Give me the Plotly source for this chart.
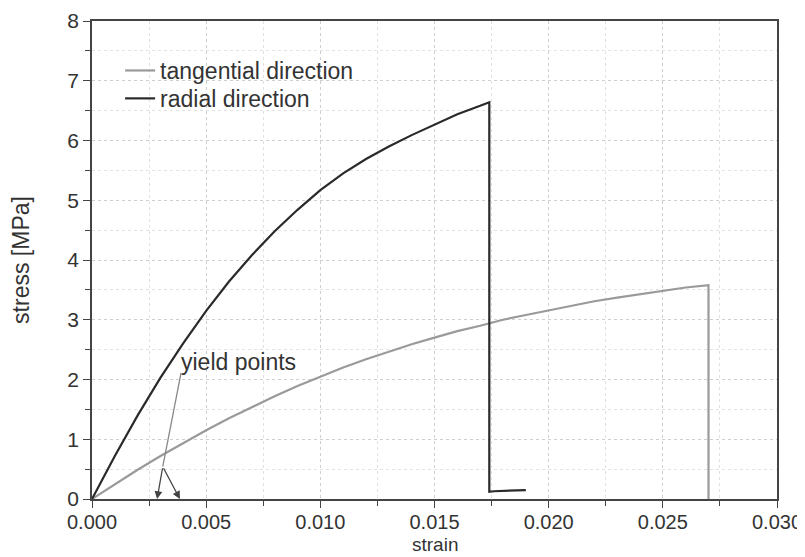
import plotly.graph_objects as go

# Data
tang_strain = [0.0, 0.001, 0.002, 0.003, 0.004, 0.005, 0.006, 0.007, 0.008, 0.009,
               0.010, 0.011, 0.012, 0.013, 0.014, 0.015, 0.016, 0.017, 0.018, 0.019,
               0.020, 0.021, 0.022, 0.023, 0.024, 0.025, 0.026, 0.027, 0.027]
tang_stress = [0.0, 0.25, 0.49, 0.72, 0.94, 1.15, 1.35, 1.54, 1.72, 1.89,
               2.05, 2.20, 2.34, 2.47, 2.59, 2.70, 2.81, 2.90, 3.00, 3.08,
               3.16, 3.24, 3.31, 3.37, 3.43, 3.49, 3.54, 3.58, 0.0]

rad_strain = [0.0, 0.001, 0.002, 0.003, 0.004, 0.005, 0.006, 0.007, 0.008, 0.009,
              0.010, 0.011, 0.012, 0.013, 0.014, 0.015, 0.016, 0.017, 0.0174,
              0.0174, 0.0176, 0.019]
rad_stress = [0.0, 0.72, 1.40, 2.03, 2.61, 3.15, 3.64, 4.08, 4.48, 4.84,
              5.17, 5.45, 5.69, 5.90, 6.09, 6.27, 6.44, 6.58, 6.64,
              0.12, 0.13, 0.15]

x_title = "strain"
y_title = "stress [MPa]"
yield_label = "yield points"
yield_targets = [0.00285, 0.00385]
yield_branch = (0.0031, 0.54)
yield_text_pos = (0.0038, 2.29)

font_family = "Liberation Sans, Arial, sans-serif"
tang_color = "#9a9a9a"
rad_color = "#2a2a2a"
text_color = "#333333"

fig = go.Figure()
fig.add_trace(go.Scatter(x=tang_strain, y=tang_stress, mode="lines",
                         name="tangential direction", legend="legend",
                         line=dict(color=tang_color, width=2.2)))
fig.add_trace(go.Scatter(x=rad_strain, y=rad_stress, mode="lines",
                         name="radial direction", legend="legend2",
                         line=dict(color=rad_color, width=2.2)))

# yield points annotation
fig.add_annotation(x=yield_text_pos[0], y=yield_text_pos[1], text=yield_label,
                   showarrow=False, xanchor="left", yanchor="middle",
                   font=dict(size=23, color=text_color, family=font_family))
fig.add_shape(type="line", x0=yield_text_pos[0] + 0.0001, y0=yield_text_pos[1] - 0.18,
              x1=yield_branch[0], y1=yield_branch[1],
              line=dict(color="#888", width=1.3))
for tx in yield_targets:
    fig.add_annotation(x=tx, y=0.0, ax=yield_branch[0], ay=yield_branch[1],
                       axref="x", ayref="y", xref="x", yref="y", text="",
                       showarrow=True, arrowhead=2, arrowsize=1.2,
                       arrowwidth=1.3, arrowcolor="#444")

# x-axis title (placed as annotation so it stays inside the page)
fig.add_annotation(x=0.5, y=0, xref="paper", yref="paper", text=x_title,
                   showarrow=False, xanchor="center", yanchor="bottom", yshift=-57,
                   borderpad=0,
                   font=dict(size=19, color=text_color, family=font_family))

axis_common = dict(showline=True, linecolor="#444", linewidth=1.6, mirror=True,
                   ticks="outside", ticklen=7, tickwidth=1.3, tickcolor="#444",
                   showgrid=True, gridcolor="#cfcfcf", griddash="dot", gridwidth=1,
                   zeroline=False, automargin=False)

fig.update_xaxes(range=[0, 0.030], dtick=0.005, tickformat=".3f",
                 ticklabelstandoff=-3,
                 tickfont=dict(size=20, color=text_color, family=font_family),
                 minor=dict(ticks="outside", ticklen=5, dtick=0.0025, tickcolor="#444",
                            showgrid=True, gridcolor="#e2e2e2", griddash="dot"),
                 **axis_common)
fig.update_yaxes(range=[0, 8], dtick=1,
                 tickfont=dict(size=21, color=text_color, family=font_family),
                 minor=dict(ticks="outside", ticklen=5, dtick=0.5, tickcolor="#444",
                            showgrid=True, gridcolor="#e2e2e2", griddash="dot"),
                 title=dict(text=y_title, standoff=33,
                            font=dict(size=23, color=text_color, family=font_family)),
                 **axis_common)

legend_font = dict(size=23, color=text_color, family=font_family)
fig.update_layout(
    width=797, height=549,
    margin=dict(l=84, r=28, t=13, b=58),
    paper_bgcolor="white", plot_bgcolor="white",
    font=dict(family=font_family, color=text_color),
    legend=dict(x=0.041, y=0.9414, xanchor="left", yanchor="top",
                bgcolor="rgba(0,0,0,0)", font=legend_font),
    legend2=dict(x=0.041, y=0.883, xanchor="left", yanchor="top",
                 bgcolor="rgba(0,0,0,0)", font=legend_font),
    showlegend=True,
)

fig.write_html("out.html")
